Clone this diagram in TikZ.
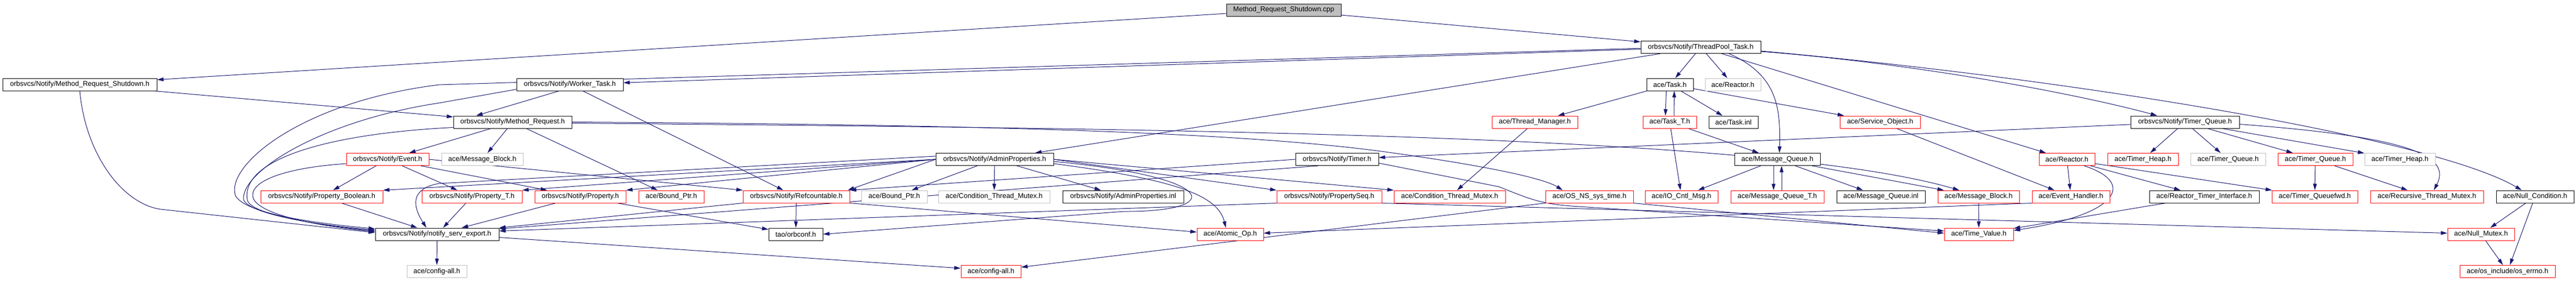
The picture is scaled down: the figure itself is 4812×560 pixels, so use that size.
\documentclass[tikz,border=0pt]{standalone}
\usepackage{fontspec}
\setmainfont{Liberation Sans}
\usetikzlibrary{arrows.meta,backgrounds}
\definecolor{edgeblue}{HTML}{191970}
\definecolor{boxgray}{HTML}{BFBFBF}
\tikzset{
  file/.style={draw=black,fill=white,line width=1pt,minimum height=23pt,inner sep=0pt,font=\fontsize{13}{15}\selectfont},
  redfile/.style={file,draw=red},
  grayfile/.style={file,draw=boxgray},
  rootfile/.style={file,fill=boxgray},
  dep/.style={->,draw=edgeblue,line width=1pt},
}
\begin{document}
\begin{tikzpicture}[x=1pt,y=-1pt,>={Triangle[length=12pt,width=7pt]}]
\useasboundingbox (0,0) rectangle (4812,560);
% row 0 and 1
\node[rootfile,minimum width=214pt] (cpp) at (2398,18.5) {Method\_Request\_Shutdown.cpp};
\node[file,minimum width=224pt] (tpt) at (3177,88) {orbsvcs/Notify/ThreadPool\_Task.h};
% row 2
\node[file,minimum width=288pt] (mrs) at (149,157.5) {orbsvcs/Notify/Method\_Request\_Shutdown.h};
\node[file,minimum width=199pt] (wt) at (1064.5,157.5) {orbsvcs/Notify/Worker\_Task.h};
\node[file,minimum width=87pt] (task) at (3119.5,157.5) {ace/Task.h};
\node[grayfile,minimum width=104pt] (reactorg) at (3237,157.5) {ace/Reactor.h};
% row 3
\node[file,minimum width=221pt] (mr) at (957.5,227.5) {orbsvcs/Notify/Method\_Request.h};
\node[redfile,minimum width=160pt] (threadmgr) at (2867,227.5) {ace/Thread\_Manager.h};
\node[redfile,minimum width=100pt] (taskt) at (3119,227.5) {ace/Task\_T.h};
\node[file,minimum width=92pt] (taskinl) at (3238,227.5) {ace/Task.inl};
\node[redfile,minimum width=150pt] (servobj) at (3512,227.5) {ace/Service\_Object.h};
\node[file,minimum width=203pt] (tq) at (4081.5,227.5) {orbsvcs/Notify/Timer\_Queue.h};
% row 4
\node[redfile,minimum width=154pt] (event) at (724,297) {orbsvcs/Notify/Event.h};
\node[grayfile,minimum width=152pt] (msgblkg) at (901,297) {ace/Message\_Block.h};
\node[file,minimum width=220pt] (ap) at (1858,297) {orbsvcs/Notify/AdminProperties.h};
\node[file,minimum width=155pt] (timer) at (2497.5,297) {orbsvcs/Notify/Timer.h};
\node[file,minimum width=160pt] (mq) at (3320,297) {ace/Message\_Queue.h};
\node[redfile,minimum width=104pt] (reactorr) at (3861,297) {ace/Reactor.h};
\node[redfile,minimum width=132pt] (theapr) at (4003,297) {ace/Timer\_Heap.h};
\node[grayfile,minimum width=140pt] (tqueueg) at (4162,297) {ace/Timer\_Queue.h};
\node[redfile,minimum width=140pt] (tqueuer) at (4325,297) {ace/Timer\_Queue.h};
\node[grayfile,minimum width=132pt] (theapg) at (4483,297) {ace/Timer\_Heap.h};
% row 5
\node[redfile,minimum width=228pt] (propbool) at (601,366.5) {orbsvcs/Notify/Property\_Boolean.h};
\node[redfile,minimum width=187pt] (propt) at (881.5,366.5) {orbsvcs/Notify/Property\_T.h};
\node[redfile,minimum width=170pt] (prop) at (1084,366.5) {orbsvcs/Notify/Property.h};
\node[redfile,minimum width=122pt] (boundr) at (1254,366.5) {ace/Bound\_Ptr.h};
\node[redfile,minimum width=199pt] (refc) at (1487.5,366.5) {orbsvcs/Notify/Refcountable.h};
\node[grayfile,minimum width=123pt] (boundg) at (1670.5,366.5) {ace/Bound\_Ptr.h};
\node[grayfile,minimum width=208pt] (condg) at (1857,366.5) {ace/Condition\_Thread\_Mutex.h};
\node[file,minimum width=226pt] (apinl) at (2098,366.5) {orbsvcs/Notify/AdminProperties.inl};
\node[redfile,minimum width=196pt] (pseq) at (2483,366.5) {orbsvcs/Notify/PropertySeq.h};
\node[redfile,minimum width=208pt] (condr) at (2708,366.5) {ace/Condition\_Thread\_Mutex.h};
\node[redfile,minimum width=164pt] (osns) at (2969,366.5) {ace/OS\_NS\_sys\_time.h};
\node[redfile,minimum width=136pt] (iocntl) at (3141,366.5) {ace/IO\_Cntl\_Msg.h};
\node[redfile,minimum width=174pt] (mqt) at (3320,366.5) {ace/Message\_Queue\_T.h};
\node[file,minimum width=165pt] (mqinl) at (3513.5,366.5) {ace/Message\_Queue.inl};
\node[redfile,minimum width=152pt] (msgblkr) at (3696,366.5) {ace/Message\_Block.h};
\node[redfile,minimum width=145pt] (evh) at (3868.5,366.5) {ace/Event\_Handler.h};
\node[file,minimum width=205pt] (rti) at (4117.5,366.5) {ace/Reactor\_Timer\_Interface.h};
\node[redfile,minimum width=160pt] (tqfwd) at (4324,366.5) {ace/Timer\_Queuefwd.h};
\node[redfile,minimum width=211pt] (recmtx) at (4533.5,366.5) {ace/Recursive\_Thread\_Mutex.h};
\node[file,minimum width=145pt] (nullcond) at (4735.5,366.5) {ace/Null\_Condition.h};
% row 6
\node[file,minimum width=231pt] (nse) at (816.5,436.5) {orbsvcs/Notify/notify\_serv\_export.h};
\node[file,minimum width=101pt] (orbconf) at (1486.5,436.5) {tao/orbconf.h};
\node[redfile,minimum width=124pt] (atomic) at (2298,436.5) {ace/Atomic\_Op.h};
\node[redfile,minimum width=129pt] (timev) at (3696.5,436.5) {ace/Time\_Value.h};
\node[redfile,minimum width=125pt] (nullmtx) at (4634.5,436.5) {ace/Null\_Mutex.h};
% row 7
\node[grayfile,minimum width=112pt] (cfgg) at (816,506) {ace/config-all.h};
\node[redfile,minimum width=112pt] (cfgr) at (1851,506) {ace/config-all.h};
\node[redfile,minimum width=178pt] (errno) at (4684,506) {ace/os\_include/os\_errno.h};

\begin{pgfonlayer}{background}
% source file
\draw[dep] (cpp) -- (mrs);
\draw[dep] (cpp) -- (tpt);
% Method_Request_Shutdown.h
\draw[dep] (mrs) -- (mr);
\draw[dep] (mrs.south) .. controls (160,290) and (230,380) .. (300,390) -- ([yshift=3pt]nse.west);
% ThreadPool_Task.h
\draw[dep] (tpt) -- (wt);
\draw[dep] ([yshift=-2pt]tpt.west) -- (820,158) .. controls (560,190) and (420,310) .. (440,365) .. controls (460,400) and (600,417) .. ([yshift=10pt]nse.west);
\draw[dep] (tpt) -- (ap);
\draw[dep] (tpt) -- (task);
\draw[dep] (tpt) -- (reactorg);
\draw[dep] ([xshift=53pt]tpt.south) .. controls (3320,140) and (3326,200) .. ([xshift=4pt]mq.north);
\draw[dep] (tpt) -- (reactorr);
\draw[dep] ([yshift=-8pt]tpt.east) .. controls (3600,120) and (3900,180) .. ([xshift=-52pt]tq.north);
\draw[dep] ([yshift=-7pt]tpt.east) .. controls (3900,150) and (4550,260) .. ([xshift=-25pt]nullcond.north);
% Worker_Task.h
\draw[dep] ([xshift=-20pt]wt.south) -- ([xshift=-68pt]mr.north);
\draw[dep] (wt) -- (refc);
\draw[dep] ([yshift=-9pt]wt.west) -- (820,192) .. controls (600,225) and (450,320) .. (455,372) .. controls (465,400) and (600,420) .. ([yshift=8pt]nse.west);
% Method_Request.h
\draw[dep] (mr) -- (msgblkg);
\draw[dep] (mr) -- (event);
\draw[dep] (mr) -- (boundr);
\draw[dep] ([yshift=-10pt]mr.west) .. controls (600,250) and (450,300) .. (462,372) .. controls (465,400) and (600,420) .. ([yshift=6pt]nse.west);
\draw[dep] (mr.east) .. controls (1800,232) and (2300,245) .. (2580,282) .. controls (2750,305) and (2880,330) .. ([xshift=-50pt]osns.north);
\draw[dep] ([yshift=-2pt]mr.east) .. controls (2200,240) and (3300,250) .. ([xshift=-36pt]msgblkr.north);
% ace/Task.h and ace/Task_T.h
\draw[dep] (task) -- (threadmgr);
\draw[dep] ([xshift=-7pt]task.south) -- ([xshift=-8pt]taskt.north);
\draw[dep] ([xshift=8pt]taskt.north) -- ([xshift=8pt]task.south);
\draw[dep] (task) -- (taskinl);
\draw[dep] (task) -- (servobj);
\draw[dep] (taskt) -- (iocntl);
\draw[dep] (taskt) -- (mq);
% ace/Message_Queue.h
\draw[dep] (mq) -- (iocntl);
\draw[dep] ([xshift=-7pt]mq.south) -- ([xshift=-7pt]mqt.north);
\draw[dep] ([xshift=8pt]mqt.north) -- ([xshift=8pt]mq.south);
\draw[dep] (mq) -- (mqinl);
\draw[dep] (mq) -- (msgblkr);
% ace headers
\draw[dep] (threadmgr) -- (condr);
\draw[dep] (servobj) -- (evh);
\draw[dep] (reactorr) -- (evh);
\draw[dep] (reactorr) -- (rti);
\draw[dep] (reactorr) -- (tqfwd);
\draw[dep] ([xshift=32pt]reactorr.south) .. controls (3990,340) and (3960,400) .. ([yshift=7pt]timev.east);
\draw[dep] (rti) -- (timev);
\draw[dep] (msgblkr) -- (timev);
\draw[dep] (evh.south west) -- ([yshift=2pt]atomic.east);
% Notify/Timer_Queue.h
\draw[dep] (tq) -- (timer);
\draw[dep] (tq) -- (theapr);
\draw[dep] (tq) -- (tqueueg);
\draw[dep] (tq) -- (tqueuer);
\draw[dep] (tq) -- (theapg);
\draw[dep] ([yshift=-4pt]tq.east) .. controls (4500,255) and (4580,290) .. ([xshift=13pt]recmtx.north);
\draw[dep] (tqueuer) -- (tqfwd);
\draw[dep] (tqueuer) -- (recmtx);
% ace/Null_Condition.h
\draw[dep] (nullcond) -- (nullmtx);
\draw[dep] (nullcond) -- (errno);
\draw[dep] (nullmtx) -- (errno);
% Event.h
\draw[dep] (event) -- (propbool);
\draw[dep] (event) -- (propt);
\draw[dep] (event) -- (prop);
\draw[dep] (event.east) -- (refc.north west);
\draw[dep] ([yshift=-8pt]event.west) .. controls (540,312) and (470,335) .. (472,365) .. controls (475,400) and (600,422) .. ([yshift=5pt]nse.west);
% Property headers
\draw[dep] (propbool) -- (nse);
\draw[dep] (propt) -- (nse);
\draw[dep] (prop) -- (nse);
\draw[dep] (prop) -- (orbconf);
% Refcountable.h
\draw[dep] (refc) -- (orbconf);
\draw[dep] (refc.south west) -- (nse.north east);
\draw[dep] (refc.south east) -- ([yshift=4pt]atomic.west);
% AdminProperties.h
\draw[dep] ([yshift=6pt]ap.west) -- (820,342) .. controls (775,350) and (765,375) .. ([xshift=-20pt]nse.north);
\draw[dep] (ap.west) -- (propbool.north east);
\draw[dep] (ap.west) -- (propt.north east);
\draw[dep] (ap.west) -- (prop.north east);
\draw[dep] (ap.west) -- ([xshift=-4pt]refc.north east);
\draw[dep] (ap) -- (boundg);
\draw[dep] (ap) -- (condg);
\draw[dep] (ap) -- (apinl);
\draw[dep] (ap.east) -- (pseq.north west);
\draw[dep] (ap.east) -- (condr.north west);
\draw[dep] ([yshift=-8pt]ap.east) .. controls (2200,335) and (2275,365) .. ([xshift=-8pt]atomic.north);
\draw[dep] ([yshift=-4pt]ap.east) .. controls (2280,330) and (2290,395) .. (2100,394) -- (orbconf.east);
% Timer.h
\draw[dep] (timer.west) -- (refc.north east);
\draw[dep] ([xshift=-35pt]timer.south) -- ([yshift=10pt]nse.east);
\draw[dep] ([yshift=-7pt]timer.east) -- (2800,348) .. controls (2860,372) and (2880,381) .. (2950,385) -- ([yshift=6pt]timev.west);
% PropertySeq.h
\draw[dep] (pseq.south west) -- ([yshift=6pt]nse.east);
\draw[dep] (pseq.south east) -- ([yshift=2pt]nullmtx.west);
% OS_NS_sys_time.h
\draw[dep] (osns.south east) -- ([yshift=2pt]timev.west);
\draw[dep] (osns.south west) -- ([yshift=8pt]cfgr.east);
% notify_serv_export.h
\draw[dep] (nse) -- (cfgg);
\draw[dep] ([yshift=-6pt]nse.east) -- ([yshift=6pt]cfgr.west);
\end{pgfonlayer}
\end{tikzpicture}
\end{document}
